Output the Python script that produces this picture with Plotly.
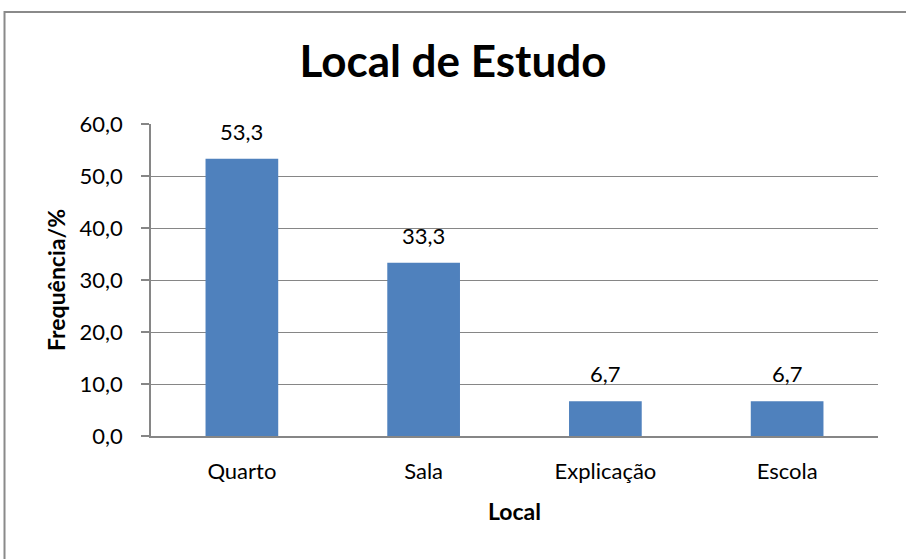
import plotly.graph_objects as go

categories = ["Quarto", "Sala", "Explicação", "Escola"]
values = [53.3, 33.3, 6.7, 6.7]
value_labels = ["53,3", "33,3", "6,7", "6,7"]
y_ticks = [0, 10, 20, 30, 40, 50, 60]
y_tick_labels = ["0,0", "10,0", "20,0", "30,0", "40,0", "50,0", "60,0"]

FONT = "Lato"
GRID = "#868686"

fig = go.Figure()
fig.add_trace(go.Bar(
    x=categories, y=values,
    marker=dict(color="#4F81BD", line=dict(width=0)),
    width=0.4,
))

for c, v, t in zip(categories, values, value_labels):
    fig.add_annotation(x=c, y=v, text=t, showarrow=False,
                       yanchor="bottom", yshift=12,
                       font=dict(family=FONT, size=22, color="#000"))

fig.add_shape(type="rect", xref="paper", yref="paper",
              x0=-0.2015, x1=1.2, y0=-0.6, y1=1.359,
              line=dict(color="#8a8a8a", width=2), layer="below")

fig.update_layout(
    width=906, height=559,
    margin=dict(l=151, r=28, t=124, b=123),
    paper_bgcolor="white", plot_bgcolor="white",
    showlegend=False,
    font=dict(family=FONT, color="#000"),
    title=dict(text="<b>Local de Estudo</b>", x=0.5, xanchor="center",
               y=1 - 62 / 559, yanchor="middle",
               font=dict(family=FONT, size=44, color="#000")),
    xaxis=dict(
        showgrid=False, showline=True, linecolor=GRID, linewidth=1.5,
        ticks="", tickfont=dict(family=FONT, size=22), ticklabelstandoff=15,
        title=dict(text="<b>Local</b>", font=dict(family=FONT, size=23), standoff=21),
    ),
    yaxis=dict(
        range=[0, 60], tickvals=y_ticks, ticktext=y_tick_labels,
        showgrid=True, gridcolor=GRID, gridwidth=1,
        showline=True, linecolor=GRID, linewidth=1.5,
        ticks="outside", ticklen=8, tickcolor=GRID, tickwidth=1.5,
        tickfont=dict(family=FONT, size=22), ticklabelstandoff=14,
        zeroline=False,
        title=dict(text="<b>Frequência/%</b>", font=dict(family=FONT, size=23), standoff=8),
    ),
)

fig.write_html("out.html",
               config={"displayModeBar": False},
               post_script="document.body.style.margin='0px';document.body.style.overflow='hidden';")
